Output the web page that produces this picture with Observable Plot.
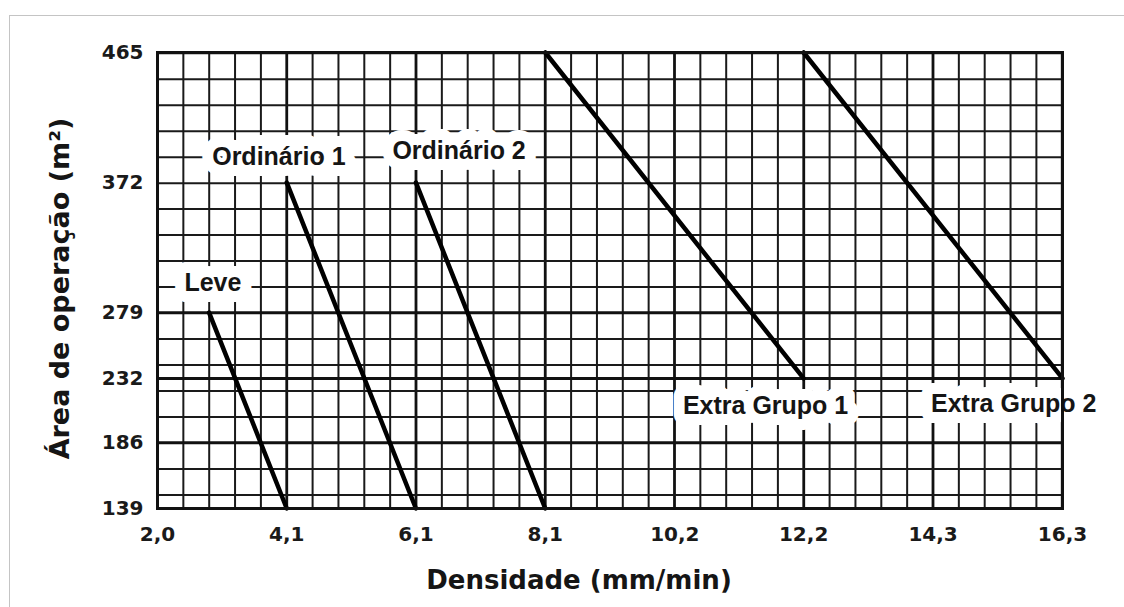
<!DOCTYPE html>
<html><head><meta charset="utf-8">
<script src="https://cdn.jsdelivr.net/npm/d3@7"></script>
<script src="https://cdn.jsdelivr.net/npm/@observablehq/plot@0.6"></script>
<style>
html,body{margin:0;padding:0;background:#fff;}
#wrap{position:relative;width:1124px;height:607px;overflow:hidden;background:#fff;}
#chart{position:absolute;left:0;top:0;}
#border{position:absolute;left:9px;top:15px;width:1200px;height:700px;border-top:1px solid #c4c4c4;border-left:1px solid #c4c4c4;pointer-events:none;}
</style></head><body>
<div id="wrap"><div id="chart"></div><div id="border"></div></div>
<script>
// Tick positions (mm/min, equally spaced 0.05 gpm/ft² steps) and their printed labels
const xTickValues = [2.037, 4.074, 6.11, 8.148, 10.19, 12.22, 14.26, 16.30];
const xTickLabels = ["2,0", "4,1", "6,1", "8,1", "10,2", "12,2", "14,3", "16,3"];
const yTickValues = [139, 186, 232, 279, 372, 465];

// Curves: each hazard class runs from (densityTop, areaTop) to (densityBottom, areaBottom)
const classes = ["Leve", "Ordinário 1", "Ordinário 2", "Extra Grupo 1", "Extra Grupo 2"];
const densityTop = [2.85, 4.074, 6.11, 8.148, 12.22];
const areaTop = [279, 372, 372, 465, 465];
const densityBottom = [4.074, 6.11, 8.148, 12.22, 16.30];
const areaBottom = [139, 139, 139, 232, 232];

// Label anchor positions (data units)
const labelX = [2.91, 3.95, 6.79, 11.62, 15.53];
const labelY = [300.4, 390.2, 394.5, 212.6, 214];

// Grid: graph paper in 0.01 gpm/ft² (x) and 200 ft² (y) steps
const xStep = 0.4074;
const vLines = d3.range(36).map(i => ({x: xTickValues[0] + i * xStep, major: i % 5 === 0}));
const ft2 = 0.092903;
const hMinor = d3.range(1600, 5001, 200).map(f => f * ft2);
const hMajor = [186, 232, 279];

const curves = classes.map((c, i) => ({c, x1: densityTop[i], y1: areaTop[i], x2: densityBottom[i], y2: areaBottom[i]}));
const labels = classes.map((c, i) => ({c, x: labelX[i], y: labelY[i]}));
const xLabelMap = new Map(xTickValues.map((v, i) => [v, xTickLabels[i]]));

const labelFont = {fontSize: 25, fontWeight: "bold", fontFamily: "Liberation Sans"};

const chart = Plot.plot({
  width: 1124,
  height: 607,
  marginLeft: 157,
  marginRight: 62,
  marginTop: 52,
  marginBottom: 99,
  x: {domain: [xTickValues[0], xTickValues[xTickValues.length - 1]]},
  y: {domain: [139, 465]},
  style: {fontFamily: "DejaVu Sans", background: "white", color: "#111"},
  marks: [
    Plot.ruleX(vLines.filter(d => !d.major), {x: "x", stroke: "#1a1a1a", strokeWidth: 2}),
    Plot.ruleX(vLines.filter(d => d.major), {x: "x", stroke: "#111", strokeWidth: 2.8}),
    Plot.ruleY(hMinor, {stroke: "#1a1a1a", strokeWidth: 2}),
    Plot.ruleY(hMajor, {stroke: "#111", strokeWidth: 3}),
    Plot.text(labels, {x: "x", y: "y", text: "c", fill: "white", stroke: "white", strokeWidth: 22, strokeLinejoin: "round", ...labelFont}),
    Plot.text(labels, {x: "x", y: "y", text: "c", fill: "#151515", ...labelFont}),
    Plot.link(curves, {x1: "x1", y1: "y1", x2: "x2", y2: "y2", stroke: "#000", strokeWidth: 4.5, strokeLinecap: "round"}),
    Plot.frame({stroke: "#111", strokeWidth: 3}),
    Plot.axisX({ticks: xTickValues, tickFormat: d => xLabelMap.get(d), tickSize: 0, tickPadding: 18, fontSize: 20, fontWeight: "bold", label: null, fill: "#1a1a1a"}),
    Plot.axisY({ticks: yTickValues, tickSize: 0, tickPadding: 14, fontSize: 20, fontWeight: "bold", label: null, fill: "#1a1a1a"}),
    Plot.text(["Densidade (mm/min)"], {text: d => d, frameAnchor: "bottom", textAnchor: "middle", lineAnchor: "middle", dx: -31, dy: 72, fontSize: 26, fontWeight: "bold", fill: "#151515"}),
    Plot.text(["Área de operação (m²)"], {text: d => d, frameAnchor: "left", textAnchor: "middle", lineAnchor: "middle", rotate: -90, dx: -97, dy: 8, fontSize: 27, fontWeight: "bold", fill: "#151515"})
  ]
});
document.getElementById("chart").appendChild(chart);
</script>
</body></html>
